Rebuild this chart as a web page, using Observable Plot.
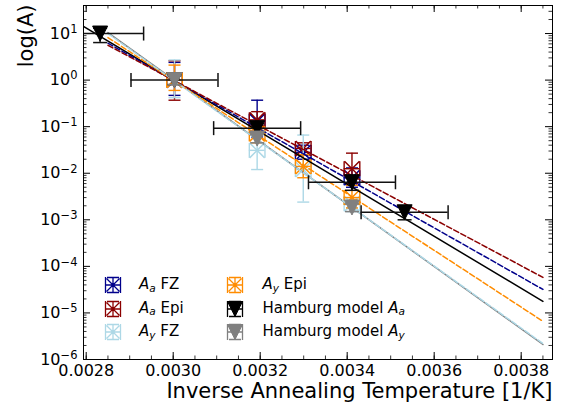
<!DOCTYPE html>
<html><head><meta charset="utf-8">
<script src="https://cdn.jsdelivr.net/npm/d3@7"></script>
<script src="https://cdn.jsdelivr.net/npm/@observablehq/plot@0.6"></script>
<style>
body{margin:0;background:#fff;font-family:"DejaVu Sans",sans-serif;}
#wrap{position:relative;width:564px;height:407px;overflow:hidden;}
.lm{position:absolute;width:18px;height:18px;}
.lt{position:absolute;font-size:15px;line-height:18px;height:18px;white-space:nowrap;color:#000;}
.sb{font-size:0.7em;font-style:italic;position:relative;top:0.28em;}
</style></head><body><div id="wrap"></div>
<script>
// ---------- data ----------
const seriesNames = ["A_a FZ", "A_a Epi", "A_y FZ", "A_y Epi"];
const seriesColors = ["#00008b", "#8b0000", "#add8e6", "#ff8c00"];
const tempX = [0.003003, 0.003193, 0.003299, 0.003411];
const dataXErr = 0.000018;

const aaFZ   = [1.0, 0.13, 0.028, 0.008];
const aaFZLo = [0.47, 0.06, 0.020, 0.005];
const aaFZHi = [2.4, 0.37, 0.040, 0.013];

const aaEpi   = [1.0, 0.14, 0.034, 0.0125];
const aaEpiLo = [0.37, 0.08, 0.025, 0.006];
const aaEpiHi = [2.6, 0.21, 0.045, 0.027];

const ayFZ   = [1.0, 0.031, 0.012, 0.0022];
const ayFZLo = [0.42, 0.012, 0.0024, 0.0015];
const ayFZHi = [2.7, 0.065, 0.066, 0.003];

const ayEpi   = [1.0, 0.07, 0.014, 0.003];
const ayEpiLo = [0.6, 0.045, 0.008, 0.0018];
const ayEpiHi = [2.1, 0.10, 0.025, 0.0055];

const hamAX  = [0.002832, 0.003003, 0.003193, 0.003411, 0.003532];
const hamA   = [10, 1.0, 0.093, 0.0064, 0.00145];
const hamALo = [6.4, 0.8, 0.075, 0.0043, 0.0010];
const hamAHi = [13, 1.25, 0.115, 0.009, 0.0019];
const hamXErr = 0.0001;

const hamYX  = [0.003003, 0.003193, 0.003411];
const hamY   = [1.0, 0.0556, 0.00184];
const hamYLo = [0.8, 0.045, 0.0015];
const hamYHi = [1.25, 0.068, 0.0022];

// fit lines (drawing order): gray, black (solid), navy, darkred, orange, lightblue (dashed)
const fitColors = ["#808080", "#000000", "#00008b", "#8b0000", "#ff8c00", "#add8e6"];
const fitDashed = [false, false, true, true, true, true];
const fitX0 = [0.00285, 0.00278, 0.00285, 0.00285, 0.00285, 0.00285];
const fitX1 = [0.00385, 0.00385, 0.00385, 0.00385, 0.00385, 0.00385];
const fitY0 = [10.5, 17, 6.2, 5.6, 8.2, 10];
const fitY1 = [2.1e-6, 1.77e-5, 3.2e-5, 5.8e-5, 6.6e-6, 2.2e-6];

const xTickValues = [0.0028, 0.0030, 0.0032, 0.0034, 0.0036, 0.0038];
const xTickLabels = ["0.0028", "0.0030", "0.0032", "0.0034", "0.0036", "0.0038"];
const yTickValues = [1e-6, 1e-5, 1e-4, 1e-3, 1e-2, 1e-1, 1e0, 1e1];
const yTickLabels = ["10^−6", "10^−5", "10^−4", "10^−3", "10^−2", "10^−1", "10^0", "10^1"];

const xLabel = "Inverse Annealing Temperature [1/K]";
const yLabel = "log(A)";

// ---------- layout ----------
const W = 564, H = 407, mL = 83, mR = 12, mT = 5, mB = 48;
const fw = W - mL - mR, fh = H - mT - mB;

const xMinor = d3.range(0, 22).map(i => 0.0028 + i * 0.00005).filter(v => v < 0.003872);
const yMinor = [];
for (let e = -6; e <= 1; e++) for (let k = 2; k <= 9; k++) { const v = k * Math.pow(10, e); if (v < 40) yMinor.push(v); }

// ---------- symbols ----------
const rr = s => Math.sqrt(s / Math.PI);
const hcap = {draw(c, s) { const r = rr(s); c.moveTo(-r, 0); c.lineTo(r, 0); }};
const vcap = {draw(c, s) { const r = rr(s); c.moveTo(0, -r); c.lineTo(0, r); }};
const xmark = {draw(c, s) { const r = rr(s); c.moveTo(-r, -r); c.lineTo(r, r); c.moveTo(-r, r); c.lineTo(r, -r); }};
const triDown = {draw(c, s) { const r = rr(s); c.moveTo(-r, -r); c.lineTo(r, -r); c.lineTo(0, r); c.closePath(); }};

const seriesVals = [[aaFZ, aaFZLo, aaFZHi], [aaEpi, aaEpiLo, aaEpiHi], [ayFZ, ayFZLo, ayFZHi], [ayEpi, ayEpiLo, ayEpiHi]];

function errMarks(d, color, xerr, capY, capX, sw) {
  const out = [];
  if (xerr > 0) {
    out.push(
      Plot.ruleY(d, {y: "y", x1: p => p.x - xerr, x2: p => p.x + xerr, stroke: color, strokeWidth: sw, clip: true}),
      Plot.dot(d, {x: p => p.x - xerr, y: "y", symbol: vcap, r: capX, stroke: color, fill: "none", strokeWidth: sw, clip: true}),
      Plot.dot(d, {x: p => p.x + xerr, y: "y", symbol: vcap, r: capX, stroke: color, fill: "none", strokeWidth: sw, clip: true})
    );
  }
  out.push(
    Plot.ruleX(d, {x: "x", y1: "lo", y2: "hi", stroke: color, strokeWidth: sw, clip: true}),
    Plot.dot(d, {x: "x", y: "lo", symbol: hcap, r: capY, stroke: color, fill: "none", strokeWidth: sw, clip: true}),
    Plot.dot(d, {x: "x", y: "hi", symbol: hcap, r: capY, stroke: color, fill: "none", strokeWidth: sw, clip: true})
  );
  return out;
}

const marks = [];
// axes ticks (inward)
marks.push(Plot.tickX(xTickValues, {x: d => d, insetTop: fh - 7, stroke: "black"}));
marks.push(Plot.tickX(xTickValues, {x: d => d, insetBottom: fh - 7, stroke: "black"}));
marks.push(Plot.tickX(xMinor, {x: d => d, insetTop: fh - 3.5, stroke: "black", strokeWidth: 0.8}));
marks.push(Plot.tickX(xMinor, {x: d => d, insetBottom: fh - 3.5, stroke: "black", strokeWidth: 0.8}));
marks.push(Plot.tickY(yTickValues, {y: d => d, insetRight: fw - 7, stroke: "black"}));
marks.push(Plot.tickY(yTickValues, {y: d => d, insetLeft: fw - 7, stroke: "black"}));
marks.push(Plot.tickY(yMinor, {y: d => d, insetRight: fw - 3.5, stroke: "black", strokeWidth: 0.8}));
marks.push(Plot.tickY(yMinor, {y: d => d, insetLeft: fw - 3.5, stroke: "black", strokeWidth: 0.8}));

// data series
seriesVals.forEach((sv, k) => {
  const d = tempX.map((x, i) => ({x, y: sv[0][i], lo: sv[1][i], hi: sv[2][i]}));
  marks.push(...errMarks(d, seriesColors[k], dataXErr, 6, 7.5, 1.4));
  marks.push(Plot.dot(d, {x: "x", y: "y", symbol: xmark, r: 7.5, stroke: seriesColors[k], fill: "none", strokeWidth: 1.5, clip: true}));
});

// fit lines
fitColors.forEach((c, k) => {
  const d = [{x: fitX0[k], y: fitY0[k]}, {x: fitX1[k], y: fitY1[k]}];
  marks.push(Plot.line(d, {x: "x", y: "y", stroke: c, strokeWidth: 1.5, strokeDasharray: fitDashed[k] ? "5.5,2.5" : null, clip: true}));
});

// Hamburg model
const dA = hamAX.map((x, i) => ({x, y: hamA[i], lo: hamALo[i], hi: hamAHi[i]}));
marks.push(...errMarks(dA, "#111", hamXErr, 7, 7, 1.5));
marks.push(Plot.dot(dA, {x: "x", y: "y", symbol: triDown, r: 7.5, fill: "black", stroke: "black", strokeWidth: 1, clip: true}));
const dY = hamYX.map((x, i) => ({x, y: hamY[i], lo: hamYLo[i], hi: hamYHi[i]}));
marks.push(...errMarks(dY, "#808080", 0, 7, 7, 1.5));
marks.push(Plot.dot(dY, {x: "x", y: "y", symbol: triDown, r: 7.5, fill: "#808080", stroke: "#808080", strokeWidth: 1, clip: true}));

marks.push(Plot.frame({stroke: "black", strokeWidth: 1}));

// tick labels
marks.push(Plot.text(xTickValues, {x: d => d, frameAnchor: "bottom", text: (d, i) => xTickLabels[i], dy: 5, lineAnchor: "top", fontSize: 16, fill: "black"}));
marks.push(Plot.text(yTickValues, {y: d => d, frameAnchor: "left", text: (d, i) => yTickLabels[i], dx: -6, textAnchor: "end", fontSize: 16, fill: "black"}));
// axis titles
marks.push(Plot.text([xLabel], {frameAnchor: "bottom-right", text: d => d, dy: 38, textAnchor: "end", lineAnchor: "bottom", fontSize: 21, fill: "black"}));
marks.push(Plot.text([yLabel], {frameAnchor: "top-left", text: d => d, dx: -51, dy: -1, rotate: -90, textAnchor: "end", lineAnchor: "bottom", fontSize: 21, fill: "black"}));

const chart = Plot.plot({
  width: W, height: H,
  marginLeft: mL, marginRight: mR, marginTop: mT, marginBottom: mB,
  x: {type: "linear", domain: [0.0027938, 0.003872], axis: null},
  y: {type: "log", domain: [1e-6, 40], axis: null},
  style: {fontFamily: "DejaVu Sans", fontSize: "16px", background: "white", color: "black", overflow: "visible"},
  marks
});
document.getElementById("wrap").appendChild(chart);

// superscripts for y tick labels
d3.select(chart).selectAll("text").each(function () {
  const t = d3.select(this);
  if (t.selectAll("tspan").size() > 0) return;
  const s = t.text();
  const m = s.match(/^10\^(.+)$/);
  if (m) {
    t.text("");
    t.append("tspan").text("10");
    t.append("tspan").attr("dy", "-0.5em").attr("font-size", "11.5px").text(m[1]);
  }
});

// ---------- legend ----------
const wrap = document.getElementById("wrap");
function boxMarker(color) {
  return `<svg width="18" height="18" viewBox="0 0 18 18"><path d="M1.5,1V17M16.5,1V17M3,1.5H15M3,16.5H15M1.5,9H16.5M9,1.5V16.5M2.5,2.5L15.5,15.5M2.5,15.5L15.5,2.5" stroke="${color}" stroke-width="1.3" fill="none"/></svg>`;
}
function triMarker(color) {
  return `<svg width="18" height="18" viewBox="0 0 18 18"><path d="M1.5,1V17M16.5,1V17M3,1.5H15M3,16.5H15M1.5,9H16.5M9,1.5V16.5" stroke="${color}" stroke-width="1.3" fill="none"/><path d="M1.5,1.5H16.5L9,16.5Z" fill="${color}" stroke="${color}"/></svg>`;
}
const legendHtml = [
  "<i>A</i><span class='sb'>a</span> FZ",
  "<i>A</i><span class='sb'>a</span> Epi",
  "<i>A</i><span class='sb'>y</span> FZ",
  "<i>A</i><span class='sb'>y</span> Epi",
  "Hamburg model <i>A</i><span class='sb'>a</span>",
  "Hamburg model <i>A</i><span class='sb'>y</span>"
];
const legendMarkers = [boxMarker("#00008b"), boxMarker("#8b0000"), boxMarker("#add8e6"), boxMarker("#ff8c00"), triMarker("#000"), triMarker("#808080")];
const rowsY = [285, 308.5, 332];
const colMX = [112.5, 235], colTX = [139, 262.5];
legendHtml.forEach((h, i) => {
  const col = Math.floor(i / 3), row = i % 3;
  const m = document.createElement("div");
  m.className = "lm"; m.style.left = (colMX[col] - 9) + "px"; m.style.top = (rowsY[row] - 9) + "px";
  m.innerHTML = legendMarkers[i];
  wrap.appendChild(m);
  const t = document.createElement("div");
  t.className = "lt"; t.style.left = colTX[col] + "px"; t.style.top = (rowsY[row] - 10) + "px";
  t.innerHTML = h;
  wrap.appendChild(t);
});
</script></body></html>
